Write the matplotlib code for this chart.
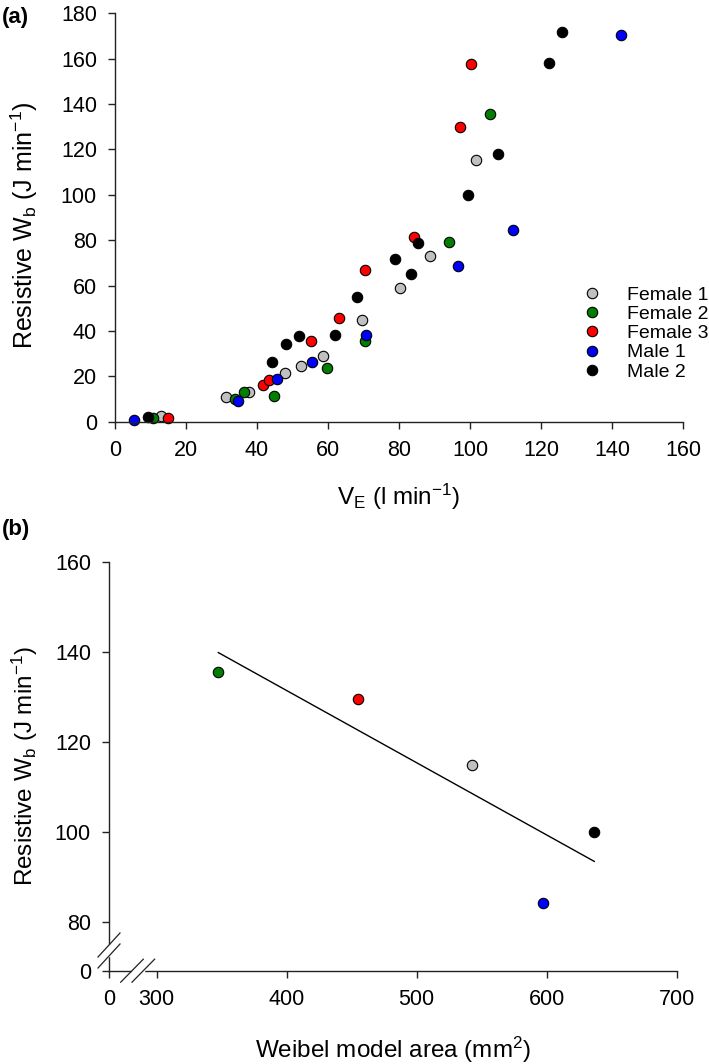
import numpy as np
import matplotlib
matplotlib.use("Agg")
import matplotlib.pyplot as plt

plt.rcParams['font.family'] = ['Liberation Sans', 'DejaVu Sans']
plt.rcParams['mathtext.default'] = 'regular'

# ---------------- data: panel (a) ----------------
f1_ve = [13.0, 31.4, 37.7, 47.9, 52.3, 58.6, 69.7, 80.2, 88.7, 101.7]
f1_wb = [2.6, 11.0, 13.1, 21.3, 24.7, 29.0, 44.9, 59.0, 73.1, 115.3]
f2_ve = [10.8, 33.8, 36.3, 44.8, 59.7, 70.3, 94.0, 105.6]
f2_wb = [1.8, 10.2, 13.0, 11.3, 23.8, 35.7, 79.1, 135.7]
f3_ve = [14.8, 41.8, 43.5, 55.2, 63.1, 70.3, 84.1, 97.3, 100.3]
f3_wb = [1.6, 16.2, 18.2, 35.4, 45.9, 66.8, 81.6, 129.8, 157.7]
m1_ve = [5.3, 34.6, 45.6, 55.6, 70.7, 96.5, 112.1, 142.4]
m1_wb = [0.75, 9.1, 18.8, 26.2, 38.4, 68.8, 84.4, 170.5]
m2_ve = [9.2, 44.2, 48.3, 51.8, 62.1, 68.2, 78.9, 83.4, 85.4, 99.4, 107.9, 122.2, 125.8]
m2_wb = [2.1, 26.3, 34.1, 37.8, 38.4, 55.1, 71.8, 65.3, 78.7, 100.1, 118.2, 158.0, 171.7]

subjects = ['Female 1', 'Female 2', 'Female 3', 'Male 1', 'Male 2']
colors = ['#c0c0c0', '#007f00', '#ff0000', '#0000ff', '#000000']

# ---------------- data: panel (b) ----------------
weibel_area = [347.4, 455.1, 542.8, 597.2, 636.6]   # Female 2, Female 3, Female 1, Male 1, Male 2
weibel_wb = [135.4, 129.6, 114.9, 84.1, 99.9]
weibel_colors = ['#007f00', '#ff0000', '#c0c0c0', '#0000ff', '#000000']

a_xticks = list(range(0, 161, 20))
a_yticks = list(range(0, 181, 20))
b_xticks = [0, 300, 400, 500, 600, 700]
b_yticks = [0, 80, 100, 120, 140, 160]

W, H = 709, 1064
fig = plt.figure(figsize=(W / 100, H / 100), dpi=100)

spine_col = '#222222'
tick_fs = 15.5
label_fs = 17.5


def style_axes(ax):
    for s in ['top', 'right']:
        ax.spines[s].set_visible(False)
    for s in ['left', 'bottom']:
        ax.spines[s].set_color(spine_col)
        ax.spines[s].set_linewidth(1.0)
    ax.tick_params(direction='out', length=5, width=1.0, color=spine_col,
                   labelsize=tick_fs, pad=8)


# ---------------- panel (a) ----------------
axA = fig.add_axes([115 / W, 1 - 421.7 / H, (683 - 115) / W, (421.7 - 13.3) / H])
style_axes(axA)
series = [(f1_ve, f1_wb), (f2_ve, f2_wb), (f3_ve, f3_wb), (m1_ve, m1_wb), (m2_ve, m2_wb)]
for (xv, yv), lab, c in zip(series, subjects, colors):
    axA.plot(xv, yv, 'o', ms=7.5, mfc=c, mec='black', mew=0.8, label=lab,
             linestyle='none', clip_on=False)
axA.set_xlim(0, 160)
axA.set_ylim(0, 180)
axA.set_xticks(a_xticks)
axA.set_yticks(a_yticks)
axA.set_xlabel('V$_E$ (l min$^{-1}$)', fontsize=label_fs)
axA.set_ylabel('Resistive W$_b$ (J min$^{-1}$)', fontsize=18)
axA.xaxis.set_label_coords(0.5, -0.148)
axA.yaxis.set_label_coords(-0.132, 0.48)
axA.legend(loc='upper left', bbox_to_anchor=(582.7 / W, 1 - 286.3 / H),
           bbox_transform=fig.transFigure, frameon=False, borderpad=0,
           borderaxespad=0, handlelength=0.93, handletextpad=1.35,
           labelspacing=0.08, fontsize=14, numpoints=1)

# ---------------- panel (b) : broken axes via piecewise scale ----------------
XB0, XBK, XS = 47.7, 300.0, 1.3     # px for [0,300] segment, break value, px per unit above
YB0, YBK, YS = 49.0, 80.0, 4.5


def fx(x):
    x = np.asarray(x, dtype=float)
    return np.where(x < XBK, x * XB0 / XBK, XB0 + (x - XBK) * XS)


def fx_inv(t):
    t = np.asarray(t, dtype=float)
    return np.where(t < XB0, t * XBK / XB0, XBK + (t - XB0) / XS)


def fy(y):
    y = np.asarray(y, dtype=float)
    return np.where(y < YBK, y * YB0 / YBK, YB0 + (y - YBK) * YS)


def fy_inv(t):
    t = np.asarray(t, dtype=float)
    return np.where(t < YB0, t * YBK / YB0, YBK + (t - YB0) / YS)


axB = fig.add_axes([109 / W, 1 - 970.7 / H, (676.7 - 109) / W, (970.7 - 561.7) / H])
style_axes(axB)
axB.set_xscale('function', functions=(fx, fx_inv))
axB.set_yscale('function', functions=(fy, fy_inv))
axB.set_xlim(0, 700)
axB.set_ylim(0, 160)
axB.set_xticks(b_xticks)
axB.set_yticks(b_yticks)
axB.set_xticklabels([str(v) for v in b_xticks])
axB.set_yticklabels([str(v) for v in b_yticks])
axB.minorticks_off()

# regression line
slope, icpt = np.polyfit(weibel_area, weibel_wb, 1)
xl = np.array([min(weibel_area), max(weibel_area)])
axB.plot(xl, slope * xl + icpt, color='black', lw=1.0)
for xv, yv, c in zip(weibel_area, weibel_wb, weibel_colors):
    axB.plot([xv], [yv], 'o', ms=7.5, mfc=c, mec='black', mew=0.8, clip_on=False)

axB.set_xlabel('Weibel model area (mm$^2$)', fontsize=label_fs)
axB.set_ylabel('Resistive W$_b$ (J min$^{-1}$)', fontsize=label_fs)
axB.xaxis.set_label_coords(0.5, -0.156)
axB.yaxis.set_label_coords(-0.1215, 0.5)

# axis-break marks
wa, ha = 567.7, 409.0
dx, dy = 11.3 / wa, 11.5 / ha
# on x-axis
xa1, xa2 = (132 - 109) / wa, (143.3 - 109) / wa
axB.plot([xa1 + 0.001, xa2 - 0.001], [0, 0], color='white', lw=2.5,
         transform=axB.transAxes, clip_on=False, zorder=5)
for xc in (xa1, xa2):
    axB.plot([xc - dx, xc + dx], [-dy, dy], color=spine_col, lw=0.9,
             transform=axB.transAxes, clip_on=False, zorder=6)
# on y-axis
ya1, ya2 = (970.7 - 956) / ha, (970.7 - 945) / ha
dx2, dy2 = 11 / wa, 12 / ha
axB.plot([0, 0], [ya1 + 0.002, ya2 - 0.002], color='white', lw=2.5,
         transform=axB.transAxes, clip_on=False, zorder=5)
for yc in (ya1, ya2):
    axB.plot([-dx2, dx2], [yc - dy2, yc + dy2], color=spine_col, lw=0.9,
             transform=axB.transAxes, clip_on=False, zorder=6)

# panel letters
fig.text(2 / W, 1 - 17 / H, '(a)', fontsize=16, fontweight='bold', va='center', ha='left')
fig.text(2 / W, 1 - 529 / H, '(b)', fontsize=16, fontweight='bold', va='center', ha='left')

fig.savefig('out.png', dpi=100)
